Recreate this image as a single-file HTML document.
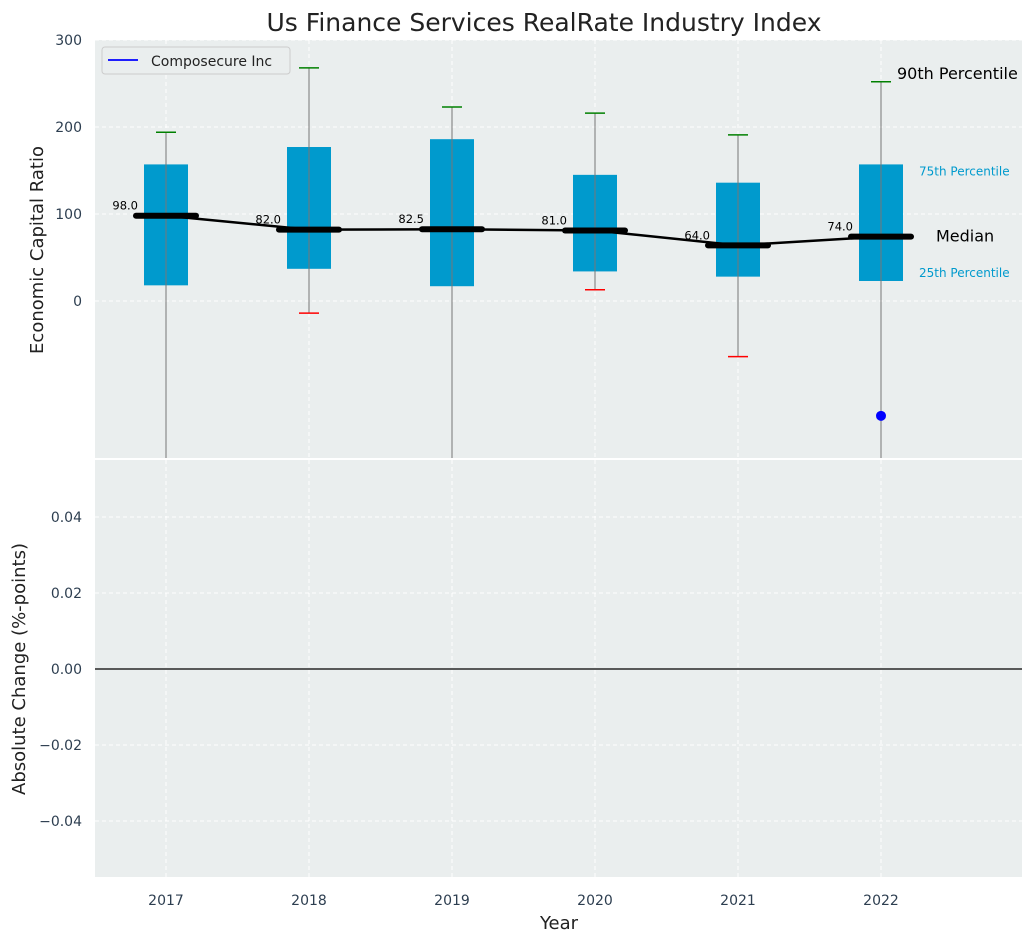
<!DOCTYPE html>
<html><head><meta charset="utf-8"><style>
body{margin:0;background:#fff;font-family:"Liberation Sans","DejaVu Sans",sans-serif}
svg text{font-family:"DejaVu Sans","Liberation Sans",sans-serif}
</style></head><body>
<svg id="c" width="1034" height="942"></svg>
<script>
const years=[2017,2018,2019,2020,2021,2022];
const q1=[18,37,17,34,28,23];
const q3=[157,177,186,145,136,157];
const med=[98,82,82.5,81,64,74];
const p90=[194,268,223,216,191,252];
const p10=[-200,-14,-200,13,-64,-200];
const company=[null,null,null,null,null,-132];
const yTicks=[0,100,200,300];
const y2Ticks=[-0.04,-0.02,0,0.02,0.04];
const svg=document.getElementById('c');const NS='http://www.w3.org/2000/svg';
function el(t,a,p){const e=document.createElementNS(NS,t);for(const k in a)e.setAttribute(k,a[k]);(p||svg).appendChild(e);return e;}
const L=95,R=1022,T1=40,B1=458,T2=460,B2=877;
const x=i=>166+143*i;
const y=v=>301-0.87*v;
const y2=v=>669-3800*v;
const clampY=v=>Math.min(B1,Math.max(T1,y(v)));
let r=el('rect',{x:L,y:T1,width:R-L,height:B1-T1,fill:'#eaeeee'});

r=el('rect',{x:L,y:T2,width:R-L,height:B2-T2,fill:'#eaeeee'});

years.forEach((yr,i)=>{
 el('line',{x1:x(i),x2:x(i),y1:T1,y2:B1,stroke:'#fff','stroke-dasharray':'4 3','stroke-width':1});
 el('line',{x1:x(i),x2:x(i),y1:T2,y2:B2,stroke:'#fff','stroke-dasharray':'4 3','stroke-width':1});
 const t=el('text',{x:x(i),y:905,'text-anchor':'middle','font-size':14,fill:'#2d3e50'});t.textContent=yr;
 
});
yTicks.forEach(v=>{
 el('line',{x1:L,x2:R,y1:y(v),y2:y(v),stroke:'#fff','stroke-dasharray':'4 3'});
 const t=el('text',{x:82,y:y(v)+5,'text-anchor':'end','font-size':14,fill:'#2d3e50'});t.textContent=v;
 
});
y2Ticks.forEach(v=>{
 el('line',{x1:L,x2:R,y1:y2(v),y2:y2(v),stroke:'#fff','stroke-dasharray':'4 3'});
 const t=el('text',{x:82,y:y2(v)+5,'text-anchor':'end','font-size':14,fill:'#2d3e50'});t.textContent=(v<0?'\u2212':'')+Math.abs(v).toFixed(2);
 
});
el('line',{x1:L,x2:R,y1:y2(0),y2:y2(0),stroke:'#000','stroke-width':1.2});
years.forEach((yr,i)=>{
 const b=el('rect',{x:x(i)-22,y:y(q3[i]),width:44,height:y(q1[i])-y(q3[i]),fill:'#009acd'});
 
 el('line',{x1:x(i),x2:x(i),y1:clampY(p90[i]),y2:clampY(p10[i]),stroke:'#777','stroke-width':1});
 el('line',{x1:x(i)-10,x2:x(i)+10,y1:y(p90[i]),y2:y(p90[i]),stroke:'green','stroke-width':1.5});
 if(y(p10[i])<B1)el('line',{x1:x(i)-10,x2:x(i)+10,y1:y(p10[i]),y2:y(p10[i]),stroke:'red','stroke-width':1.5});
 const m=el('line',{x1:x(i)-30,x2:x(i)+30,y1:y(med[i]),y2:y(med[i]),stroke:'#000','stroke-width':6,'stroke-linecap':'round'});
 
 const t=el('text',{x:x(i)-28,y:y(med[i])-6,'text-anchor':'end','font-size':11.5,fill:'#000'});t.textContent=med[i].toFixed(1);
 
 if(company[i]!==null){const c=el('circle',{cx:x(i),cy:y(company[i]),r:5,fill:'blue'});
  }
});
const ml=el('polyline',{points:years.map((_,i)=>x(i)+','+y(med[i])).join(' '),fill:'none',stroke:'#000','stroke-width':2.5});

function txt(s,a,name){const t=el('text',a);t.textContent=s;return t;}
const n=5;
txt('90th Percentile',{x:897,y:y(p90[n])-3,'font-size':16,fill:'#000'},'annot-90th');
txt('75th Percentile',{x:919,y:y(q3[n])+11,'font-size':12,fill:'#009acd'},'annot-75th');
txt('Median',{x:936,y:y(med[n])+5,'font-size':16,fill:'#000'},'annot-median');
txt('25th Percentile',{x:919,y:y(q1[n])-4,'font-size':12,fill:'#009acd'},'annot-25th');
txt('Us Finance Services RealRate Industry Index',{x:544,y:31,'text-anchor':'middle','font-size':25,fill:'#222'},'chart-title');
txt('Economic Capital Ratio',{x:43,y:250,'text-anchor':'middle','font-size':18,fill:'#222',transform:'rotate(-90 43 250)'},'y-axis-title');
txt('Absolute Change (%-points)',{x:25,y:669,'text-anchor':'middle','font-size':18,fill:'#222',transform:'rotate(-90 25 669)'},'y2-axis-title');
txt('Year',{x:559,y:929,'text-anchor':'middle','font-size':18,fill:'#222'},'x-axis-title');
const lg=el('rect',{x:102,y:47,width:188,height:27,rx:3,fill:'#eaeeee',stroke:'#ccc'});

el('line',{x1:108,x2:138,y1:60,y2:60,stroke:'blue','stroke-width':1.8});
txt('Composecure Inc',{x:151,y:66,'font-size':14,fill:'#222'},'legend-entry');
</script>
</body></html>
